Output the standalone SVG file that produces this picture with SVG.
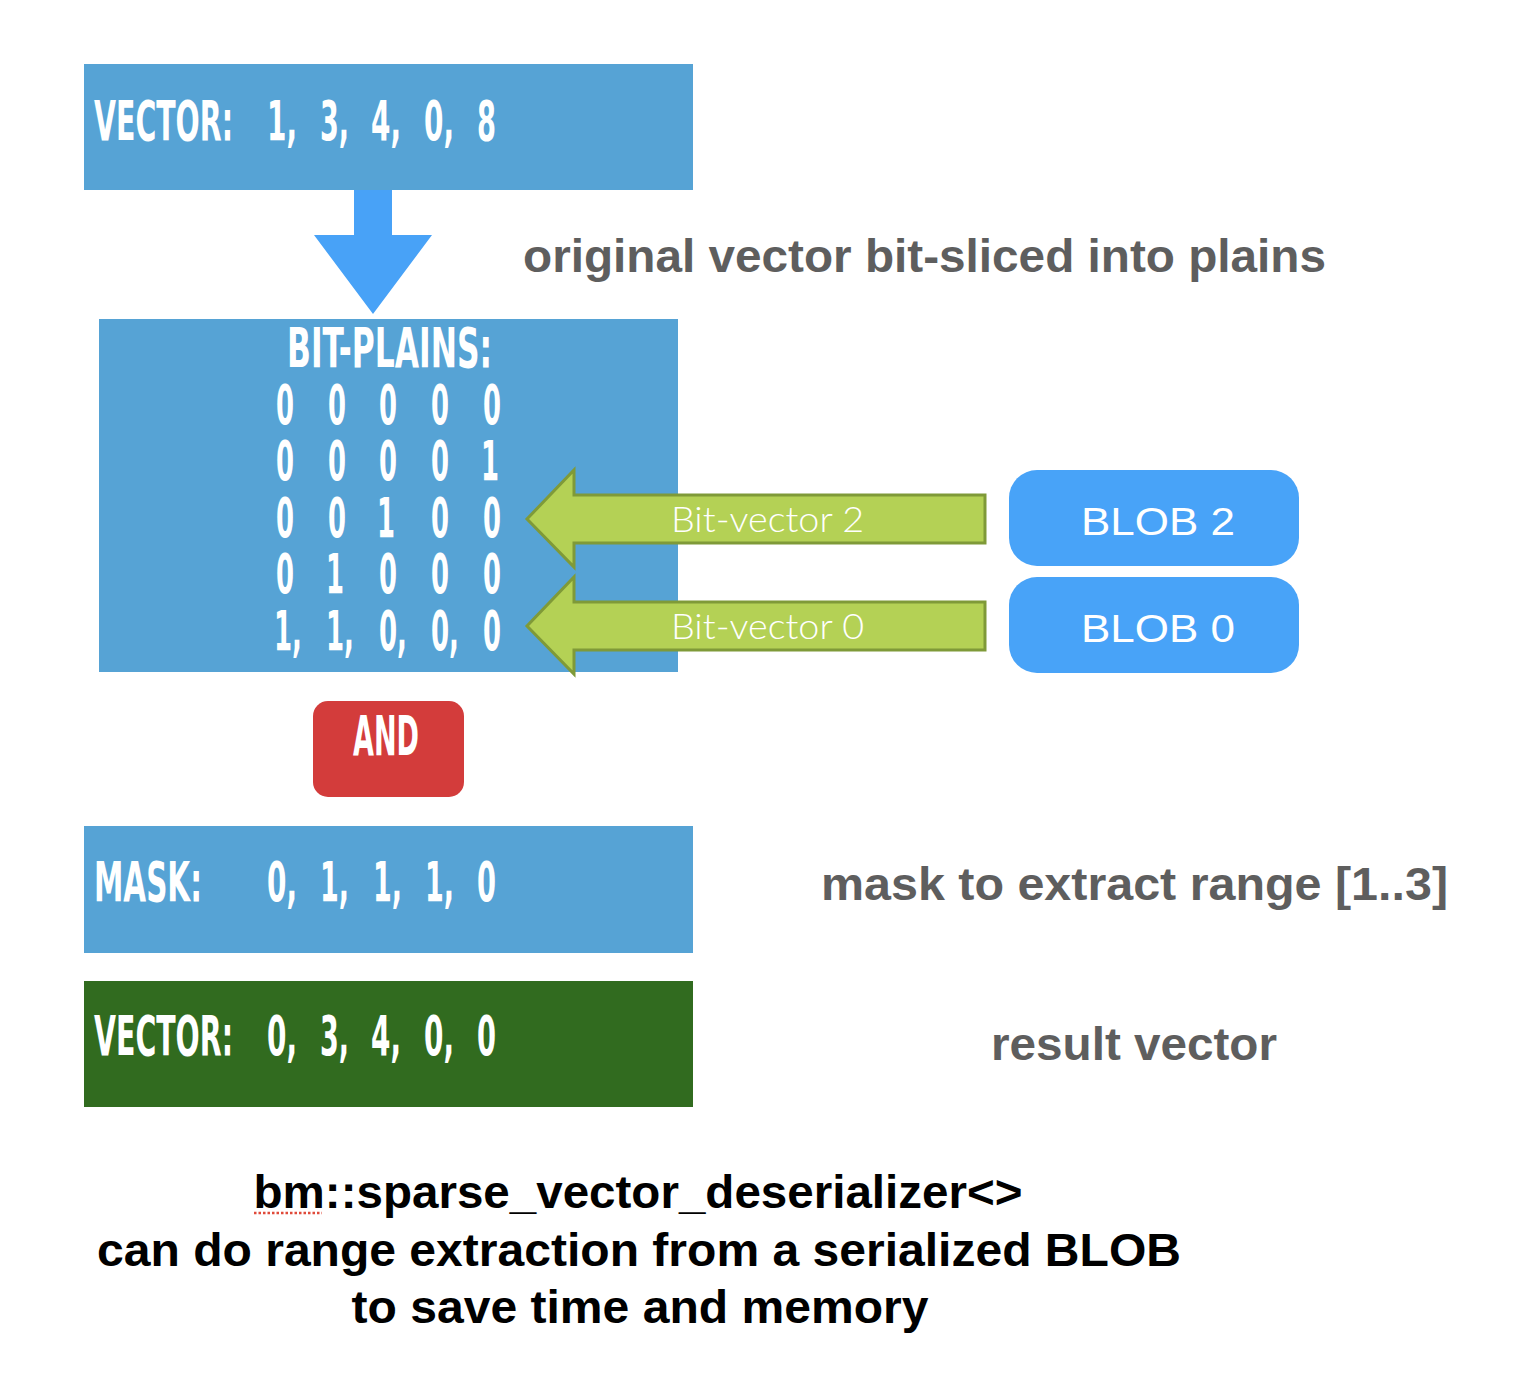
<svg xmlns="http://www.w3.org/2000/svg" width="1526" height="1396" viewBox="0 0 1526 1396">
<style>
.c{font-family:"DejaVu Sans Condensed","DejaVu Sans",sans-serif;font-weight:bold;font-size:55px;fill:#fff}
.box{fill:#56a3d5}
.blob{fill:#48a3f8}
.blobt{font-family:"Liberation Sans",Arial,sans-serif;font-size:39px;fill:#fff;text-anchor:middle}
.gar{fill:#b4d155;stroke:#7f9a38;stroke-width:3}
.gt{font-family:Lato,"Open Sans","Liberation Sans",sans-serif;font-weight:300;font-size:35px;fill:#fff}
.gray{font-family:"Liberation Sans",Arial,sans-serif;font-weight:bold;font-size:46px;fill:#5e5e5e}
.blk{font-family:"Liberation Sans",Arial,sans-serif;font-weight:bold;font-size:46px;fill:#000;text-anchor:middle}
</style>
<rect width="1526" height="1396" fill="#fff"/>

<g id="vector-top">
  <rect class="box" x="84" y="64" width="609" height="126"/>
  <text class="c" transform="scale(0.6,1)" y="140"><tspan x="156.67" textLength="231.67" lengthAdjust="spacingAndGlyphs">VECTOR:</tspan><tspan x="445" textLength="50" lengthAdjust="spacingAndGlyphs">1,</tspan><tspan x="533.33" textLength="48.33" lengthAdjust="spacingAndGlyphs">3,</tspan><tspan x="618.33" textLength="50" lengthAdjust="spacingAndGlyphs">4,</tspan><tspan x="706.67" textLength="50" lengthAdjust="spacingAndGlyphs">0,</tspan><tspan x="795" textLength="31.67" lengthAdjust="spacingAndGlyphs">8</tspan></text>
</g>

<g id="label-original">
  <text class="gray" x="523" y="272" textLength="803" lengthAdjust="spacingAndGlyphs">original vector bit-sliced into plains</text>
</g>

<g id="bit-plains">
  <rect class="box" x="99" y="319" width="579" height="353"/>
  <text class="c" transform="scale(0.6,1)" x="478.33" y="367" textLength="341.67" lengthAdjust="spacingAndGlyphs">BIT-PLAINS:</text>
  <text class="c" transform="scale(0.6,1)" y="424"><tspan x="460" textLength="30" lengthAdjust="spacingAndGlyphs">0</tspan><tspan x="546.67" textLength="30" lengthAdjust="spacingAndGlyphs">0</tspan><tspan x="631.67" textLength="30" lengthAdjust="spacingAndGlyphs">0</tspan><tspan x="718.33" textLength="30" lengthAdjust="spacingAndGlyphs">0</tspan><tspan x="805" textLength="30" lengthAdjust="spacingAndGlyphs">0</tspan></text>
  <text class="c" transform="scale(0.6,1)" y="480"><tspan x="460" textLength="30" lengthAdjust="spacingAndGlyphs">0</tspan><tspan x="546.67" textLength="30" lengthAdjust="spacingAndGlyphs">0</tspan><tspan x="631.67" textLength="30" lengthAdjust="spacingAndGlyphs">0</tspan><tspan x="718.33" textLength="30" lengthAdjust="spacingAndGlyphs">0</tspan><tspan x="801.67" textLength="30" lengthAdjust="spacingAndGlyphs">1</tspan></text>
  <text class="c" transform="scale(0.6,1)" y="537"><tspan x="460" textLength="30" lengthAdjust="spacingAndGlyphs">0</tspan><tspan x="546.67" textLength="30" lengthAdjust="spacingAndGlyphs">0</tspan><tspan x="628.33" textLength="30" lengthAdjust="spacingAndGlyphs">1</tspan><tspan x="718.33" textLength="30" lengthAdjust="spacingAndGlyphs">0</tspan><tspan x="805" textLength="30" lengthAdjust="spacingAndGlyphs">0</tspan></text>
  <text class="c" transform="scale(0.6,1)" y="593"><tspan x="460" textLength="30" lengthAdjust="spacingAndGlyphs">0</tspan><tspan x="543.33" textLength="30" lengthAdjust="spacingAndGlyphs">1</tspan><tspan x="631.67" textLength="30" lengthAdjust="spacingAndGlyphs">0</tspan><tspan x="718.33" textLength="30" lengthAdjust="spacingAndGlyphs">0</tspan><tspan x="805" textLength="30" lengthAdjust="spacingAndGlyphs">0</tspan></text>
  <text class="c" transform="scale(0.6,1)" y="650"><tspan x="456.67" textLength="46.67" lengthAdjust="spacingAndGlyphs">1,</tspan><tspan x="543.33" textLength="46.67" lengthAdjust="spacingAndGlyphs">1,</tspan><tspan x="631.67" textLength="46.67" lengthAdjust="spacingAndGlyphs">0,</tspan><tspan x="718.33" textLength="46.67" lengthAdjust="spacingAndGlyphs">0,</tspan><tspan x="805" textLength="30" lengthAdjust="spacingAndGlyphs">0</tspan></text>
</g>

<g id="blob2">
  <rect class="blob" x="1009" y="470" width="290" height="96" rx="28"/>
  <text class="blobt" x="1158" y="535" textLength="154" lengthAdjust="spacingAndGlyphs">BLOB 2</text>
</g>
<g id="blob0">
  <rect class="blob" x="1009" y="577" width="290" height="96" rx="28"/>
  <text class="blobt" x="1158" y="642" textLength="154" lengthAdjust="spacingAndGlyphs">BLOB 0</text>
</g>

<g id="and">
  <rect x="313" y="701" width="151" height="96" rx="15" fill="#d33c3b"/>
  <text class="c" transform="scale(0.6,1)" x="588.33" y="755" textLength="110" lengthAdjust="spacingAndGlyphs">AND</text>
</g>

<g id="mask">
  <rect class="box" x="84" y="826" width="609" height="127"/>
  <text class="c" transform="scale(0.6,1)" y="901"><tspan x="156.67" textLength="180" lengthAdjust="spacingAndGlyphs">MASK:</tspan><tspan x="445" textLength="50" lengthAdjust="spacingAndGlyphs">0,</tspan><tspan x="533.33" textLength="48.33" lengthAdjust="spacingAndGlyphs">1,</tspan><tspan x="621.67" textLength="48.33" lengthAdjust="spacingAndGlyphs">1,</tspan><tspan x="708.33" textLength="48.33" lengthAdjust="spacingAndGlyphs">1,</tspan><tspan x="795" textLength="31.67" lengthAdjust="spacingAndGlyphs">0</tspan></text>
</g>
<g id="label-mask">
  <text class="gray" x="821" y="900" textLength="627" lengthAdjust="spacingAndGlyphs">mask to extract range [1..3]</text>
</g>

<g id="result">
  <rect x="84" y="981" width="609" height="126" fill="#316b1f"/>
  <text class="c" transform="scale(0.6,1)" y="1055"><tspan x="156.67" textLength="231.67" lengthAdjust="spacingAndGlyphs">VECTOR:</tspan><tspan x="445" textLength="50" lengthAdjust="spacingAndGlyphs">0,</tspan><tspan x="533.33" textLength="48.33" lengthAdjust="spacingAndGlyphs">3,</tspan><tspan x="618.33" textLength="50" lengthAdjust="spacingAndGlyphs">4,</tspan><tspan x="706.67" textLength="50" lengthAdjust="spacingAndGlyphs">0,</tspan><tspan x="795" textLength="31.67" lengthAdjust="spacingAndGlyphs">0</tspan></text>
</g>
<g id="label-result">
  <text class="gray" x="991" y="1060" textLength="286" lengthAdjust="spacingAndGlyphs">result vector</text>
</g>

<g id="caption">
  <text class="blk" x="638" y="1208" textLength="769" lengthAdjust="spacingAndGlyphs">bm::sparse_vector_deserializer&lt;&gt;</text>
  <line x1="254" y1="1213" x2="322" y2="1213" stroke="#e04a3a" stroke-width="2.5" stroke-dasharray="2.5,2"/>
  <text class="blk" x="639" y="1266" textLength="1084" lengthAdjust="spacingAndGlyphs">can do range extraction from a serialized BLOB</text>
  <text class="blk" x="640" y="1323" textLength="577" lengthAdjust="spacingAndGlyphs">to save time and memory</text>
</g>

<g id="connectors">
  <polygon id="arrow-down" points="354,190 392,190 392,235 432,235 373,314 314,235 354,235" fill="#48a2f7"/>
  <g id="arrow-bv2">
    <polygon class="gar" points="985,495 574,495 574,470 527,519 574,567 574,543 985,543"/>
    <text class="gt" x="671" y="532" textLength="193" lengthAdjust="spacingAndGlyphs">Bit-vector 2</text>
  </g>
  <g id="arrow-bv0">
    <polygon class="gar" points="985,602 574,602 574,577 527,626 574,674 574,650 985,650"/>
    <text class="gt" x="671" y="639" textLength="193" lengthAdjust="spacingAndGlyphs">Bit-vector 0</text>
  </g>
</g>
</svg>
